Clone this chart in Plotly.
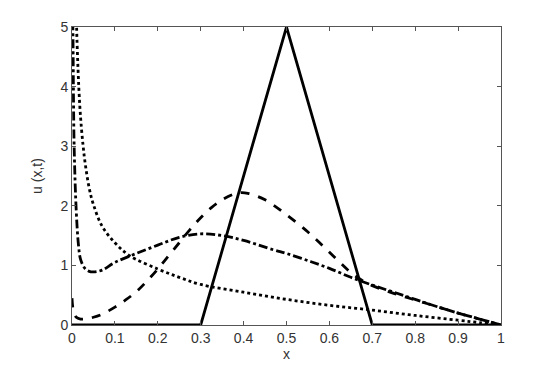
import plotly.graph_objects as go

# solid: initial triangle pulse
x_solid = [0, 0.3, 0.5, 0.7, 1.0]
u_solid = [0, 0, 5, 0, 0]

# dashed
x_dash = [0, 0.003, 0.01, 0.02, 0.03, 0.05, 0.07, 0.1, 0.125, 0.15, 0.175, 0.2, 0.225, 0.25, 0.275,
          0.3, 0.325, 0.35, 0.375, 0.39, 0.41, 0.45, 0.5, 0.55, 0.586, 0.62, 0.65, 0.68, 0.7,
          0.75, 0.8, 0.85, 0.9, 0.95, 1.0]
u_dash = [0.45, 0.25, 0.13, 0.1, 0.1, 0.13, 0.18, 0.3, 0.42, 0.56, 0.74, 0.94, 1.16, 1.38, 1.6,
          1.8, 1.97, 2.1, 2.19, 2.22, 2.21, 2.1, 1.85, 1.56, 1.32, 1.08, 0.88, 0.73, 0.66,
          0.53, 0.42, 0.31, 0.2, 0.1, 0.0]

# dash-dot
x_dashdot = [0, 0.002, 0.005, 0.01, 0.015, 0.02, 0.03, 0.04, 0.05, 0.07, 0.1, 0.15, 0.2, 0.25,
             0.3, 0.35, 0.4, 0.47, 0.5, 0.55, 0.6, 0.65, 0.7, 0.75, 0.8, 0.85, 0.9, 0.95, 1.0]
u_dashdot = [6.0, 5.0, 3.0, 1.9, 1.35, 1.1, 0.95, 0.9, 0.89, 0.92, 1.05, 1.2, 1.34, 1.47,
             1.53, 1.5, 1.42, 1.26, 1.2, 1.08, 0.95, 0.8, 0.67, 0.55, 0.43, 0.31, 0.2, 0.1, 0.0]

# dotted
x_dot = [0.006, 0.01, 0.014, 0.018, 0.022, 0.026, 0.03, 0.04, 0.05, 0.07, 0.1, 0.135, 0.2, 0.25,
         0.3, 0.4, 0.5, 0.6, 0.7, 0.8, 0.9, 0.95, 1.0]
u_dot = [7.0, 5.2, 4.3, 3.7, 3.3, 3.0, 2.75, 2.3, 2.02, 1.66, 1.38, 1.16, 0.94, 0.8,
         0.68, 0.55, 0.43, 0.33, 0.25, 0.16, 0.08, 0.04, 0.0]

fig = go.Figure()
line = dict(color='black', width=2.8)
fig.add_trace(go.Scatter(x=x_solid, y=u_solid, mode='lines', line=dict(line, dash='solid')))
fig.add_trace(go.Scatter(x=x_dash, y=u_dash, mode='lines', line=dict(line, dash='dash', shape='spline')))
fig.add_trace(go.Scatter(x=x_dashdot, y=u_dashdot, mode='lines', line=dict(line, dash='dashdot', shape='spline')))
fig.add_trace(go.Scatter(x=x_dot, y=u_dot, mode='lines', line=dict(line, dash='dot', shape='spline')))

axis = dict(showgrid=False, zeroline=False, showline=True, linecolor='#555', linewidth=1,
            mirror='ticks', ticks='inside', ticklen=4, tickcolor='#555',
            tickfont=dict(size=14, color='#333'))
# page body has an 8px margin, so the margins are shifted to compensate
fig.update_layout(
    width=554, height=367, showlegend=False,
    plot_bgcolor='white', paper_bgcolor='white',
    font=dict(family='Liberation Sans, Arial, sans-serif', color='#333'),
    margin=dict(l=64, r=61, t=19, b=50, autoexpand=False),
    xaxis=dict(axis, range=[0, 1], tickvals=[i / 10 for i in range(11)],
               ticktext=['0', '0.1', '0.2', '0.3', '0.4', '0.5', '0.6', '0.7', '0.8', '0.9', '1'],
               title=dict(text='x', font=dict(size=14), standoff=4)),
    yaxis=dict(axis, range=[0, 5], dtick=1,
               title=dict(text='u (x,t)', font=dict(size=14), standoff=14)),
)
fig.write_html("out.html")
